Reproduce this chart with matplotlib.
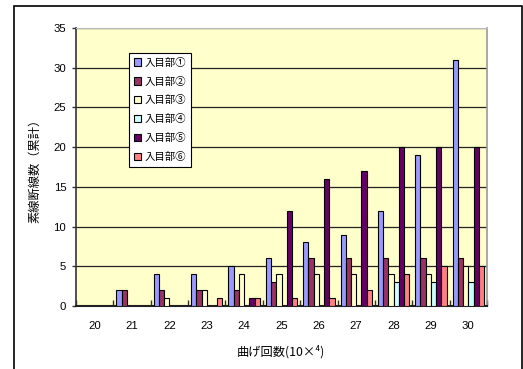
import numpy as np
import matplotlib.pyplot as plt
from matplotlib.patches import Rectangle

plt.rcParams['font.family'] = ['Liberation Sans', 'Noto Sans CJK JP', 'DejaVu Sans']

cycles = ['20', '21', '22', '23', '24', '25', '26', '27', '28', '29', '30']
labels = ['入目部①', '入目部②', '入目部③', '入目部④', '入目部⑤', '入目部⑥']
part1 = [0, 2, 4, 4, 5, 6, 8, 9, 12, 19, 31]
part2 = [0, 2, 2, 2, 2, 3, 6, 6, 6, 6, 6]
part3 = [0, 0, 1, 2, 4, 4, 4, 4, 4, 4, 5]
part4 = [0, 0, 0, 0, 0, 0, 0, 0, 3, 3, 3]
part5 = [0, 0, 0, 0, 1, 12, 16, 17, 20, 20, 20]
part6 = [0, 0, 0, 1, 1, 1, 1, 2, 4, 5, 5]
colors = ['#9999ff', '#993366', '#ffffcc', '#ccffff', '#660066', '#ff8080']

fig = plt.figure(figsize=(5.23, 3.69), dpi=100)
ax = fig.add_axes([76/523, 63/369, 411/523, 278/369])
ax.set_facecolor('#ffffcc')

# outer frame of the chart
fig.patches.append(Rectangle((14/523, -0.05), 508/523, 363/369 + 0.05,
                             transform=fig.transFigure, fill=False,
                             edgecolor='black', linewidth=1.2))

ind = np.arange(len(cycles))
width = 0.14
series = [part1, part2, part3, part4, part5, part6]
for i, vals in enumerate(series):
    ax.bar(ind + (i - 2.5) * width, vals, width, color=colors[i],
           edgecolor='black', linewidth=0.8, label=labels[i], zorder=3)

ax.set_xlim(-0.5, len(cycles) - 0.5)
ax.set_ylim(0, 35)
ax.set_yticks(np.arange(0, 36, 5))
ax.yaxis.grid(True, color='#222222', linewidth=0.9, zorder=1)
ax.set_axisbelow(True)

# boundary ticks between categories, labels at the centres
ax.set_xticks(np.arange(-0.5, len(cycles), 1.0))
ax.set_xticklabels([])
ax.set_xticks(ind, minor=True)
ax.set_xticklabels(cycles, minor=True)
ax.tick_params(axis='x', which='major', direction='in', length=4, width=1, color='#333333')
ax.tick_params(axis='x', which='minor', length=0, pad=11, labelsize=8.2)
ax.tick_params(axis='y', direction='out', length=3, width=1, labelsize=8.2, pad=4, color='#333333')

ax.spines['left'].set_color('#333333')
ax.spines['left'].set_linewidth(1.2)
ax.spines['bottom'].set_color('#222222')
ax.spines['bottom'].set_linewidth(1.5)
ax.spines['top'].set_color('#bbbbbb')
ax.spines['right'].set_color('#999999')
ax.spines['right'].set_linewidth(1.2)

fig.text(35/523, 1 - 168/369, '素線断線数（累計）', rotation=90, ha='center', va='center',
         fontsize=8.8, family=['Noto Sans CJK JP', 'DejaVu Sans'])
fig.text(281/523, 1 - 352/369, '曲げ回数(10×⁴)', ha='center', va='center',
         fontsize=8.8, family=['Noto Sans CJK JP', 'DejaVu Sans'])

leg = ax.legend(loc='upper left', bbox_to_anchor=((129 - 76) / 411, (306 - 53) / 278),
                borderaxespad=0, handlelength=0.7, handleheight=0.7,
                handletextpad=0.35, labelspacing=0.85, borderpad=0.45,
                fancybox=False, framealpha=1, edgecolor='black',
                prop={'family': ['Noto Sans CJK JP', 'DejaVu Sans'], 'size': 7.5})
leg.get_frame().set_linewidth(0.8)

fig.savefig('out.png', dpi=100)
